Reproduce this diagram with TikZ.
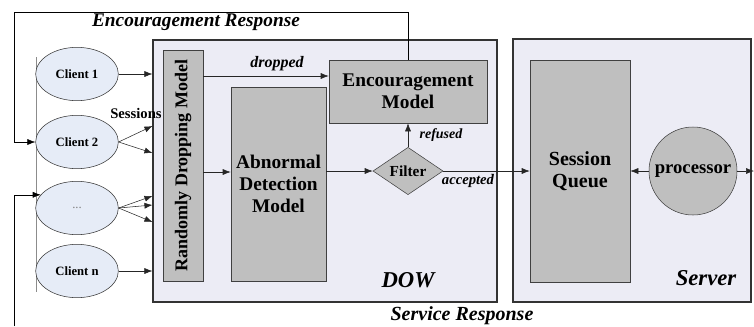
\documentclass[tikz,border=0pt]{standalone}
\usepackage{fontspec}
\setmainfont{Liberation Serif}
\usetikzlibrary{shapes.geometric, arrows, arrows.meta}
\definecolor{clientfill}{HTML}{E6ECF7}
\definecolor{modelfill}{HTML}{BFBFBF}
\definecolor{areafill}{HTML}{ECECF5}
\newcommand{\fsz}[2]{\fontsize{#1}{#2}\selectfont}

\begin{document}
\begin{tikzpicture}[x=0.75pt,y=-0.75pt,
  client/.style={ellipse,draw=black!80,fill=clientfill,minimum width=62pt,minimum height=40pt,inner sep=0pt,font=\bfseries\fsz{9.5}{11}},
  model/.style={rectangle,draw=black!75,fill=modelfill,inner sep=0pt,align=center,font=\bfseries\fsz{14.5}{16.5}},
  area/.style={rectangle,draw=black!80,fill=areafill,inner sep=0pt,line width=0.8pt},
  flow/.style={-{Latex[length=6pt,width=4.5pt]},black!85},
  lbl/.style={font=\bfseries\itshape\fsz{11}{12}},
  big/.style={font=\bfseries\itshape\fsz{17}{18}}]
\useasboundingbox (0,0) rectangle (754,326);

\node[area,minimum width=258pt,minimum height=196.5pt] (dow) at (325,171) {};
\node[area,minimum width=178.5pt,minimum height=197.25pt] (srv) at (632,170.5) {};

\draw[black!45] (36,57)--(36,292);

\node[client] (cl1) at (77,74) {Client 1};
\node[client] (cl2) at (77,142) {Client 2};
\node[client] (dots) at (77,208) {\textcolor{black!50}{\mdseries...}};
\node[client] (cln) at (77,271) {Client n};

\node[model,rotate=90,minimum width=173.25pt,minimum height=30pt,font=\bfseries\fsz{13.5}{15}] (rdm) at (183,165.5) {Randomly Dropping Model};
\node[model,minimum width=71.25pt,minimum height=145.5pt] (abn) at (278.5,184) {Abnormal\\Detection\\Model};
\node[model,minimum width=118.5pt,minimum height=47.25pt] (enc) at (408,91.5) {Encouragement\\Model};
\node[diamond,draw=black!75,fill=modelfill,inner sep=0pt,minimum width=52.5pt,minimum height=34.5pt,font=\bfseries\fsz{11.5}{12}] (filter) at (408,171) {Filter};
\node[model,minimum width=75pt,minimum height=166.5pt,font=\bfseries\fsz{15}{16.5}] (queue) at (580,171) {Session\\Queue};
\node[circle,draw=black!75,fill=modelfill,inner sep=0pt,minimum size=66pt,font=\bfseries\fsz{14}{15}] (proc) at (693,171) {processor};

\coordinate (fbtop) at (14,12);
\coordinate (fbbot) at (14,326);
\coordinate (out) at (754,171);

\draw[flow] (cl1.east) -- (cl1.east -| dow.west);
\draw[flow] (cl2.east) -- (dow.west |- 0,126);
\draw[flow] (cl2.east) -- (dow.west |- 0,153);
\draw[flow] (dots.east) -- (dow.west |- 0,196);
\draw[flow] (dots.east) -- (dow.west |- 0,205);
\draw[flow] (dots.east) -- (dow.west |- 0,222);
\draw[flow] (cln.east) -- (cln.east -| dow.west);

\draw[flow] (rdm.south |- 0,76) -- (enc.west |- 0,76);
\draw[flow] (rdm.south |- 0,172) -- (abn.west |- 0,172);
\draw[flow] (abn.east |- filter) -- (filter.west);
\draw[flow] (filter.north) -- (enc.south);
\draw[flow] (filter.east) -- (queue.west);
\draw[flow] (proc.west) -- (queue.east);
\draw[flow] (proc.east) -- (out);

\draw[flow,black] (enc.north) |- (fbtop) |- (cl2.west);
\draw[flow,black] (fbbot) |- (dots.160);

\node[font=\bfseries\fsz{11}{12}] (sess) at (136,113) {Sessions};
\node[lbl,font=\bfseries\itshape\fsz{12}{13}] (dropl) at (277,64) {dropped};
\node[lbl,font=\bfseries\itshape\fsz{10.5}{12}] (refl) at (441,135) {refused};
\node[lbl] (accl) at (468,181) {accepted};
\node[big] (dowl) at (408,280) {DOW};
\node[big] (srvl) at (706,278) {Server};
\node[lbl,font=\bfseries\itshape\fsz{14.5}{16}] (encr) at (196,22) {Encouragement Response};
\node[lbl,font=\bfseries\itshape\fsz{15}{16}] (servr) at (462,316) {Service Response};
\end{tikzpicture}
\end{document}
